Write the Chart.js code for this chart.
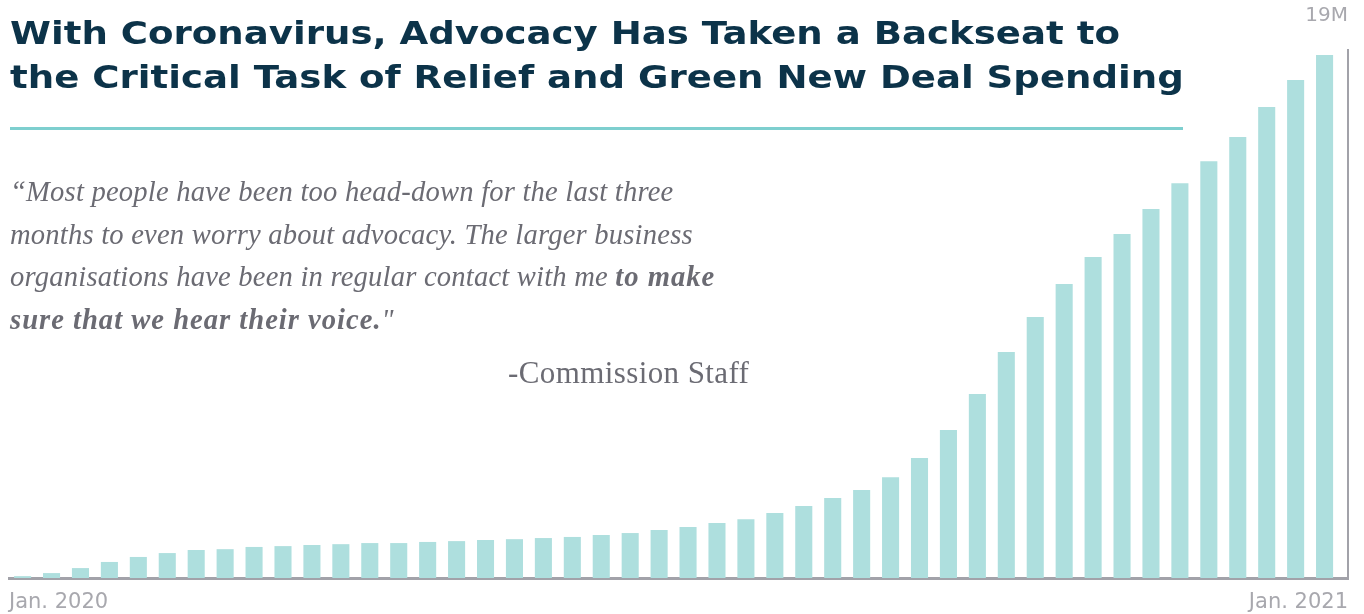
<!DOCTYPE html>
<html>
<head>
<meta charset="utf-8">
<script src="https://cdn.jsdelivr.net/npm/chart.js@4"></script>
<style>
    html, body { margin: 0; padding: 0; background: #fff; }
    #wrap { position: relative; width: 1364px; height: 614px; overflow: hidden; }
    #myChart { position: absolute; left: 0; top: 0; }
    .titulo {
        position: absolute; left: 10px; top: 11px;
        font-family: "DejaVu Sans", sans-serif; font-weight: bold;
        font-size: 32px; line-height: 44px; color: #0c3349;
        white-space: nowrap;
        transform: scaleX(1.16); transform-origin: 0 0;
    }
    .linha { position: absolute; left: 10px; top: 127px; width: 1173px; height: 3px; background: #7ecfcf; }
    .citacao {
        position: absolute; left: 10px; top: 171px;
        font-family: "Liberation Serif", serif; font-style: italic;
        font-size: 28.6px; letter-spacing: 0.2px; line-height: 42.5px; color: #6b6b73;
        white-space: nowrap;
    }
    .citacao b { letter-spacing: 1px; }
    .autor {
        position: absolute; left: 508px; top: 355px;
        font-family: "Liberation Serif", serif;
        font-size: 31px; letter-spacing: 0.4px; color: #6b6b73; white-space: nowrap;
    }
</style>
</head>
<body>
<div id="wrap">
    <canvas id="myChart" width="1364" height="614"></canvas>
    <div class="titulo">With Coronavirus, Advocacy Has Taken a Backseat to<br>the Critical Task of Relief and Green New Deal Spending</div>
    <div class="linha"></div>
    <div class="citacao">“Most people have been too head-down for the last three<br>months to even worry about advocacy. The larger business<br>organisations have been in regular contact with me <b>to make<br>sure that we hear their voice.</b>"</div>
    <div class="autor">-Commission Staff</div>
</div>
<script>
// periods between Jan. 2020 and Jan. 2021
var periodos = [1, 2, 3, 4, 5, 6, 7, 8, 9, 10, 11, 12, 13, 14, 15, 16, 17, 18, 19, 20, 21, 22, 23,
    24, 25, 26, 27, 28, 29, 30, 31, 32, 33, 34, 35, 36, 37, 38, 39, 40, 41, 42, 43, 44, 45, 46];

// cumulative total, millions
var valores = [0.07, 0.18, 0.36, 0.58, 0.76, 0.90, 1.01, 1.04, 1.12, 1.15, 1.19, 1.22, 1.26, 1.26,
    1.30, 1.33, 1.37, 1.40, 1.44, 1.48, 1.55, 1.62, 1.73, 1.84, 1.98, 2.12, 2.34, 2.59, 2.88, 3.17,
    3.63, 4.32, 5.33, 6.62, 8.13, 9.39, 10.58, 11.55, 12.38, 13.28, 14.21, 15.00, 15.87, 16.95,
    17.92, 18.82];

var rotulosX = ['Jan. 2020', 'Jan. 2021'];
var rotuloY = '19M';
var maxY = 19;

window.onload = function () {
    this.grafico();
}

function grafico() {
    var ctx = document.getElementById('myChart');
    var cinza = '#a2a2a9';

    var myChart = new Chart(ctx, {
        type: 'bar',
        data: {
            labels: periodos,
            datasets: [{
                label: 'Total',
                data: valores,
                backgroundColor: '#aedfde',
                barPercentage: 0.59,
                categoryPercentage: 1
            }]
        },
        options: {
            responsive: false,
            animation: false,
            // negative bottom: the date labels hang down to the page edge
            layout: { padding: { left: 9, right: 16, top: 0, bottom: -14 } },
            plugins: {
                legend: { display: false },
                tooltip: { enabled: false },
                title: {
                    display: true,
                    text: rotuloY,
                    align: 'end',
                    color: '#a8a8ae',
                    font: { family: 'DejaVu Sans', size: 20, weight: 'normal' },
                    padding: { top: 4, bottom: 22 }
                }
            },
            scales: {
                // linear so the axis can run a bit past the last bar, like the original
                x: {
                    type: 'linear',
                    offset: false,
                    min: 0.53,
                    max: 46.81,
                    grid: { display: false, drawTicks: false, offset: false },
                    border: { display: true, color: cinza, width: 3 },
                    ticks: { display: false }
                },
                x2: {
                    type: 'linear',
                    position: 'bottom',
                    offset: false,
                    min: 0,
                    max: 1,
                    grid: { display: false, drawTicks: false, offset: false },
                    border: { display: false },
                    ticks: {
                        stepSize: 1,
                        align: 'inner',
                        padding: 9,
                        maxRotation: 0,
                        color: '#a8a8ae',
                        font: { family: 'DejaVu Sans', size: 21, lineHeight: 1.52 },
                        callback: function (v, i) { return rotulosX[i]; }
                    }
                },
                y: {
                    position: 'right',
                    min: 0,
                    max: maxY,
                    grid: { display: false, drawTicks: false },
                    border: { display: true, color: cinza, width: 2 },
                    ticks: { display: false }
                }
            }
        }
    });
}
</script>
</body>
</html>
